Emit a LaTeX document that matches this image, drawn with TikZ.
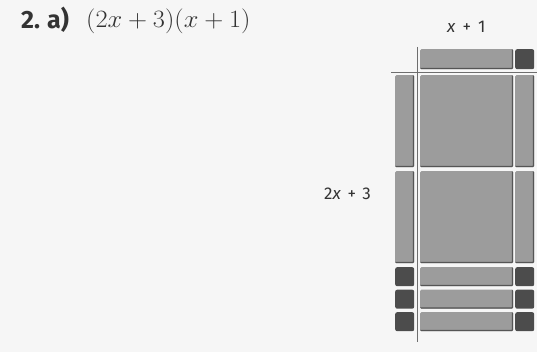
\documentclass[tikz,border=0pt]{standalone}
\usepackage{fontspec}
\usepackage{graphicx}
\newfontfamily\labfont{Fira Sans}
\definecolor{paper}{HTML}{F6F6F6}
\definecolor{midtile}{HTML}{9C9C9C}
\definecolor{darktile}{HTML}{4C4C4C}
\definecolor{edge}{HTML}{555555}
\definecolor{ink}{HTML}{333333}
\definecolor{rule}{HTML}{6E6E6E}
\tikzset{
  tile/.style={anchor=north west, inner sep=0pt, rounded corners=1.2pt,
    path picture={\draw[line width=2.6pt, edge]
      ([xshift=-2pt]path picture bounding box.south west) -- (path picture bounding box.south east)
      -- ([yshift=2pt]path picture bounding box.north east);}},
  longtile/.style={tile, fill=midtile, minimum width=93pt, minimum height=#1},
  sidetile/.style={tile, fill=midtile, minimum width=19pt, minimum height=#1},
  unittile/.style={anchor=north west, inner sep=0pt, rounded corners=2pt, fill=darktile,
    minimum width=19pt, minimum height=#1},
  guide/.style={draw=rule, line width=1pt},
  lab/.style={text=ink, font=\labfont\fontsize{17}{20}\selectfont, inner sep=0pt}
}
\begin{document}
\begin{tikzpicture}[x=1pt,y=-1pt]
\fill[paper] (0,0) rectangle (537,352);
\useasboundingbox (0,0) rectangle (537,352);

% title
\node[anchor=base west, inner sep=0pt, text=ink, font=\labfont\bfseries\fontsize{25}{28}\selectfont] (num) at (21,29) {2.\hspace{7pt}a)};
\node[anchor=base west, inner sep=0pt, text=ink, font=\fontsize{24.88}{28}\selectfont] (expr) at (86,28) {\scalebox{1.06}[1]{$(2x + 3)(x + 1)$}};

% labels
\node[lab, anchor=base west] (lx1) at (447,33) {\textit{x}\hspace{7pt}+\hspace{7pt}1};
\node[lab, anchor=base west] (l2x3) at (324,200) {2\textit{x}\hspace{6.5pt}+\hspace{6.5pt}3};

% top row (x + 1)
\node[longtile=20pt] (ttop) at (420,49) {};
\node[unittile=20pt] (utop) at (515,49) {};

% left column
\node[sidetile=92pt] (l1) at (395,75) {};
\node[sidetile=92pt] (l2) at (395,171) {};
% x^2 tiles
\node[longtile=92pt] (b1) at (420,75) {};
\node[longtile=92pt] (b2) at (420,171) {};
% right column
\node[sidetile=92pt] (r1) at (515,75) {};
\node[sidetile=92pt] (r2) at (515,171) {};

% unit rows
\foreach \i/\y in {1/267,2/289.5,3/312}{
  \node[unittile=19pt] (ul\i) at (395,\y) {};
  \node[longtile=19pt] (m\i) at (420,\y) {};
  \node[unittile=19pt] (ur\i) at (515,\y) {};
}

% guide lines
\coordinate (vtop) at (417,47);
\coordinate (vbot) at (417,342);
\coordinate (hleft) at (391,72.5);
\coordinate (hright) at (537,72.5);
\draw[guide] (vtop) -- (vbot);
\draw[guide] (hleft) -- (hright);
\end{tikzpicture}
\end{document}
